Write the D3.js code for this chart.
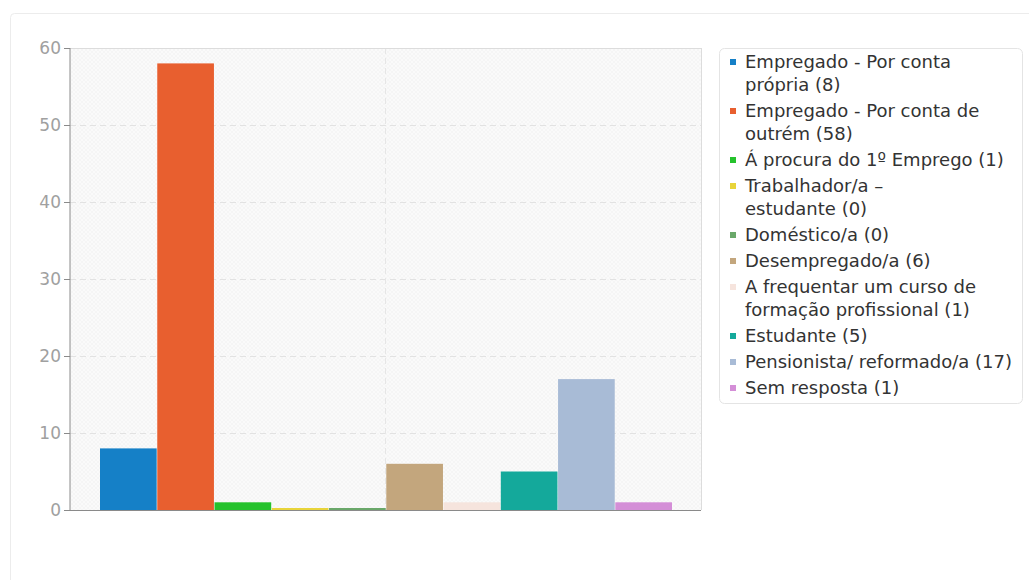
<!DOCTYPE html>
<html><head><meta charset="utf-8">
<script src="https://cdn.jsdelivr.net/npm/d3@7"></script>
<style>
html,body{margin:0;padding:0;background:#fff;}
svg{display:block;font-family:"DejaVu Sans",sans-serif;}
</style></head>
<body>
<svg id="c" width="1029" height="580"></svg>
<script>
const categories = [
  "Empregado - Por conta\nprópria",
  "Empregado - Por conta de\noutrém",
  "Á procura do 1º Emprego",
  "Trabalhador/a –\nestudante",
  "Doméstico/a",
  "Desempregado/a",
  "A frequentar um curso de\nformação profissional",
  "Estudante",
  "Pensionista/ reformado/a",
  "Sem resposta"
];
const values = [8, 58, 1, 0, 0, 6, 1, 5, 17, 1];
const colors = ["#1580c7","#e85f2f","#25c22c","#e8d43a","#6aa86a","#c3a67d","#f6e4dd","#14a99b","#a8bbd6","#d48ed7"];
const yTicks = [0, 10, 20, 30, 40, 50, 60];

const svg = d3.select("#c");
const defs = svg.append("defs");
const pat = defs.append("pattern").attr("id","hatch").attr("width",4).attr("height",4).attr("patternUnits","userSpaceOnUse");
pat.append("rect").attr("width",4).attr("height",4).attr("fill","#fafafa");
pat.append("path").attr("d","M0,4 L4,0 M0,0 L4,4").attr("stroke","#f2f2f2").attr("stroke-width",0.6);

// outer card
svg.append("rect").attr("x",10.5).attr("y",13.5).attr("width",1030).attr("height",600)
  .attr("rx",4).attr("fill","#fff").attr("stroke","#ececec");

const L = 70, R = 701, T = 48, B = 510;
const x = d3.scaleBand().domain(d3.range(values.length)).range([100, 672]).paddingInner(0.01);
const y = d3.scaleLinear().domain([0, 60]).range([B, T]);

svg.append("rect").attr("x",L).attr("y",T).attr("width",R-L).attr("height",B-T).attr("fill","url(#hatch)");

// grid
svg.append("g").selectAll("line").data(yTicks.filter(d=>d>0 && d<60)).join("line")
  .attr("x1",L).attr("x2",R).attr("y1",d=>Math.round(y(d))+0.5).attr("y2",d=>Math.round(y(d))+0.5)
  .attr("stroke","#e2e2e2").attr("stroke-dasharray","6,4");
svg.append("line").attr("x1",(L+R)/2).attr("x2",(L+R)/2).attr("y1",T).attr("y2",B)
  .attr("stroke","#e6e6e6").attr("stroke-dasharray","6,4");
svg.append("line").attr("x1",L).attr("x2",R+0.5).attr("y1",T+0.5).attr("y2",T+0.5).attr("stroke","#dcdcdc");
svg.append("line").attr("x1",R+0.5).attr("x2",R+0.5).attr("y1",T).attr("y2",B).attr("stroke","#dcdcdc");

// bars
svg.append("g").selectAll("rect").data(values).join("rect")
  .attr("x",(d,i)=>x(i)).attr("width",x.bandwidth())
  .attr("y",d=>Math.min(y(d), B-2)).attr("height",d=>Math.max(B-y(d),2))
  .attr("fill",(d,i)=>colors[i]);

// axes
const yAxis = svg.append("g").attr("transform",`translate(${L},0)`)
  .call(d3.axisLeft(y).tickValues(yTicks).tickSize(6).tickPadding(3));
yAxis.select(".domain").attr("stroke","#8a8a8a").attr("d",`M0,${T}V${B}`);
yAxis.selectAll(".tick line").attr("stroke","#8a8a8a");
yAxis.selectAll(".tick text").attr("fill","#a0a0a0").attr("font-size",17).attr("font-family","DejaVu Sans");
svg.append("line").attr("x1",L).attr("x2",R).attr("y1",B+0.5).attr("y2",B+0.5).attr("stroke","#8a8a8a");

// legend
const lg = svg.append("g");
lg.append("rect").attr("x",719.5).attr("y",48.5).attr("width",303).attr("height",355).attr("rx",5)
  .attr("fill","#fff").attr("stroke","#e4e4e4");
let cy = 62;
categories.forEach((c,i)=>{
  const lines = c.split("\n");
  lines[lines.length-1] += ` (${values[i]})`;
  lg.append("rect").attr("x",730).attr("y",cy-3).attr("width",6).attr("height",6).attr("fill",colors[i]);
  lines.forEach((ln,j)=>{
    lg.append("text").attr("x",745).attr("y",cy + j*23).attr("dy","0.36em")
      .attr("font-size",18).attr("fill","#333").text(ln);
  });
  cy += (lines.length-1)*23 + 26;
});
</script>
</body></html>
